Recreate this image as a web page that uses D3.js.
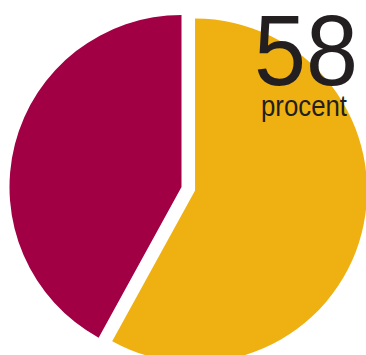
<!DOCTYPE html>
<html>
<head>
<meta charset="utf-8">
<script src="https://cdn.jsdelivr.net/npm/d3@7"></script>
<style>
html,body{margin:0;padding:0;background:#fff;overflow:hidden;}
svg{display:block;}
</style>
</head>
<body>
<svg id="chart" width="366" height="355"></svg>
<script>
const categories = ["procent", "resten"];
const values = [58, 42];
const colors = ["#EFB112", "#A10044"];
const bigLabel = "58";
const subLabel = "procent";

const svg = d3.select("#chart");
const cx = 181.5, cy = 187, r = 172, explode = 14;

const pie = d3.pie().sort(null).value(d => d.v);
const arcs = pie(categories.map((c, i) => ({c, v: values[i], col: colors[i]})));
const arc = d3.arc().innerRadius(0).outerRadius(r);

const g = svg.append("g").attr("transform", `translate(${cx},${cy})`);
g.selectAll("path").data(arcs).join("path")
  .attr("d", arc)
  .attr("fill", d => d.data.col)
  .attr("transform", (d, i) => {
    if (i !== 0) return null;
    const mid = (d.startAngle + d.endAngle) / 2;
    return `translate(${Math.sin(mid) * explode},${-Math.cos(mid) * explode})`;
  });

svg.append("text")
  .attr("x", 254).attr("y", 85)
  .attr("font-family", "Liberation Sans, Arial, sans-serif")
  .attr("font-size", 100)
  .attr("fill", "#231F20")
  .attr("textLength", 104)
  .attr("lengthAdjust", "spacingAndGlyphs")
  .text(bigLabel);

svg.append("text")
  .attr("x", 261).attr("y", 115.5)
  .attr("font-family", "Liberation Sans, Arial, sans-serif")
  .attr("font-size", 29)
  .attr("fill", "#231F20")
  .attr("textLength", 86)
  .attr("lengthAdjust", "spacingAndGlyphs")
  .text(subLabel);
</script>
</body>
</html>
